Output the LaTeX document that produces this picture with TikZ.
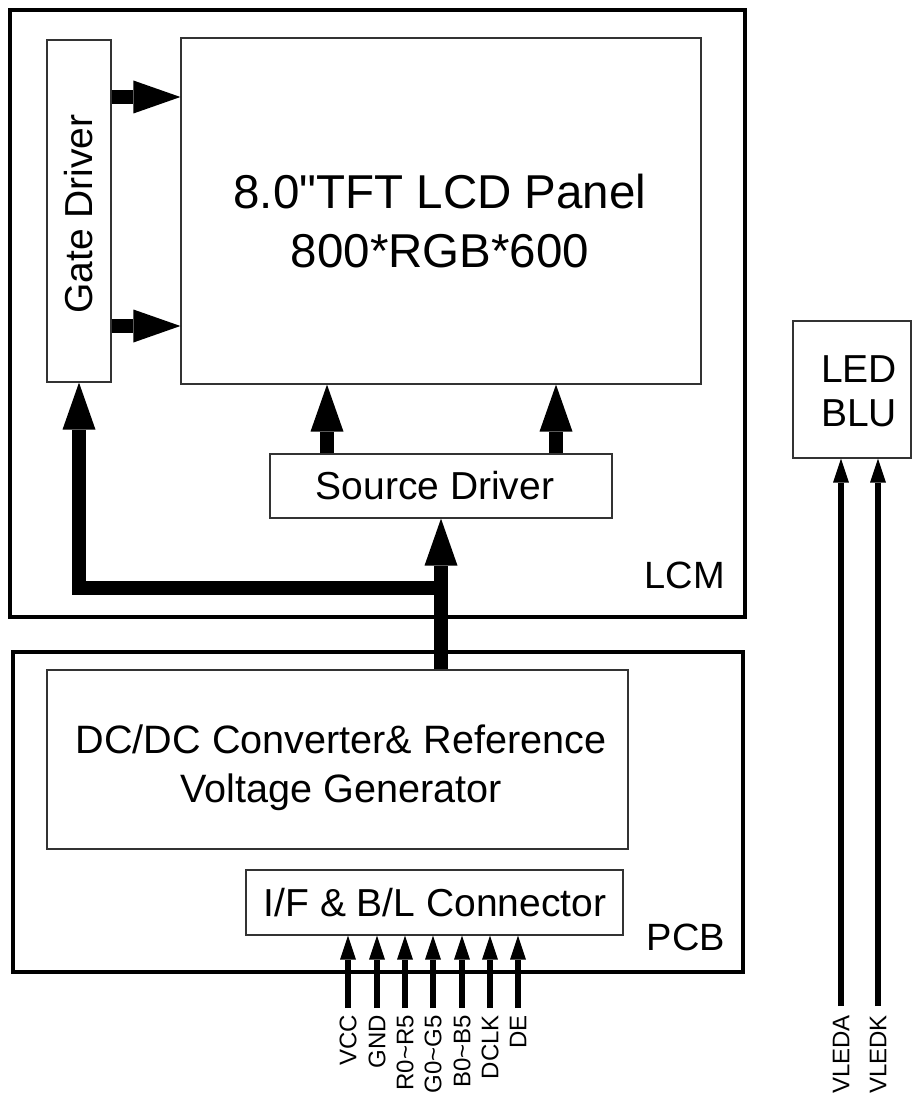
\documentclass[tikz,border=0pt]{standalone}
\usepackage{fontspec}
\setmainfont{Liberation Sans}
\newfontfamily\arialf{Liberation Sans}
\usetikzlibrary{arrows.meta,calc}
\begin{document}
\begin{tikzpicture}[x=1pt,y=-1pt,
  frame/.style={draw=black, line width=3.5pt, inner sep=0pt},
  blk/.style={draw=black!80, line width=1.2pt, fill=white, inner sep=0pt},
  bigarrow/.style={line width=14pt, line join=miter, -{Triangle[width=33pt,length=47pt,line width=0pt]}},
  smallarrow/.style={line width=6pt, -{Triangle[width=16pt,length=24pt,line width=0pt]}},
  txt/.style={inner sep=0pt, anchor=base},
  fbig/.style={font=\arialf\fontsize{47.5}{52}\selectfont},
  fmid/.style={font=\arialf\fontsize{39}{44}\selectfont},
  fdc/.style={font=\arialf\fontsize{39.6}{44}\selectfont},
  flab/.style={font=\arialf\fontsize{38}{42}\selectfont},
  fsig/.style={font=\arialf\fontsize{24}{28}\selectfont},
  sig/.style={fsig, inner sep=0pt, rotate=90, anchor=east}]
\useasboundingbox (0,0) rectangle (913,1094);
\fill[white] (0,0) rectangle (913,1094);

% frames
\node[frame, minimum width=735pt, minimum height=607pt] (lcm) at (377.5,313.5) {};
\node[frame, minimum width=730pt, minimum height=320pt] (pcb) at (378,812) {};

% blocks
\node[blk, minimum width=64pt, minimum height=342pt] (gate) at (79,211) {};
\node[blk, minimum width=520pt, minimum height=346pt] (panel) at (441,211) {};
\node[blk, minimum width=342pt, minimum height=64pt] (source) at (441,486) {};
\node[blk, minimum width=581pt, minimum height=179pt] (dcdc) at (337.5,759.5) {};
\node[blk, minimum width=377pt, minimum height=65pt] (ifc) at (434.5,902.5) {};
\node[blk, minimum width=118pt, minimum height=137pt] (led) at (852,389.5) {};

% texts
\node[txt, fbig] (pt1) at (440,208) {8.0"TFT LCD Panel};
\node[txt, fbig] (pt2) at (440,267) {800*RGB*600};
\node[fmid, inner sep=0pt, rotate=90] (gdt) at (79,214) {Gate Driver};
\node[txt, fmid] (sdt) at (435,499) {Source Driver};
\node[txt, flab, anchor=base east] (lcmt) at (725,588) {LCM};
\node[txt, fdc] (dct1) at (341,753) {DC/DC Converter\& Reference};
\node[txt, fdc] (dct2) at (341,802) {Voltage Generator};
\node[txt, fmid] (ift) at (435,916) {I/F \& B/L Connector};
\node[txt, flab, anchor=base east] (pcbt) at (725,950) {PCB};
\node[txt, fmid] (ledt1) at (859,382) {LED};
\node[txt, fmid] (ledt2) at (859,426) {BLU};

% gate -> panel
\coordinate (g1) at (0,97);
\coordinate (g2) at (0,326);
\draw[bigarrow] (gate.east |- g1) -- (panel.west |- g1);
\draw[bigarrow] (gate.east |- g2) -- (panel.west |- g2);

% source -> panel
\coordinate (s1) at (327,0);
\coordinate (s2) at (556,0);
\draw[bigarrow] (source.north -| s1) -- (panel.south -| s1);
\draw[bigarrow] (source.north -| s2) -- (panel.south -| s2);

% bus from DC/DC
\coordinate (jn) at (441,588);
\draw[bigarrow] (source.south |- dcdc.north) -- (source.south);
\draw[bigarrow] (jn) -| (gate.south);

% interface signals
\foreach \x/\n/\t in {348/vcc/VCC, 377/gnd/GND, 405/r/R0\textasciitilde R5, 433/g/G0\textasciitilde G5, 462/b/B0\textasciitilde B5, 490/clk/DCLK, 518/de/DE}{
  \coordinate (\n s) at (\x,1008);
  \draw[smallarrow] (\n s) -- (\n s |- ifc.south);
  \node[sig] (\n l) at (\x,1015) {\t};
}

% LED signals
\foreach \x/\n/\t in {841/la/VLEDA, 878/lk/VLEDK}{
  \coordinate (\n s) at (\x,1006);
  \draw[smallarrow] (\n s) -- (\n s |- led.south);
  \node[sig] (\n l) at (\x,1015) {\t};
}
\end{tikzpicture}
\end{document}
